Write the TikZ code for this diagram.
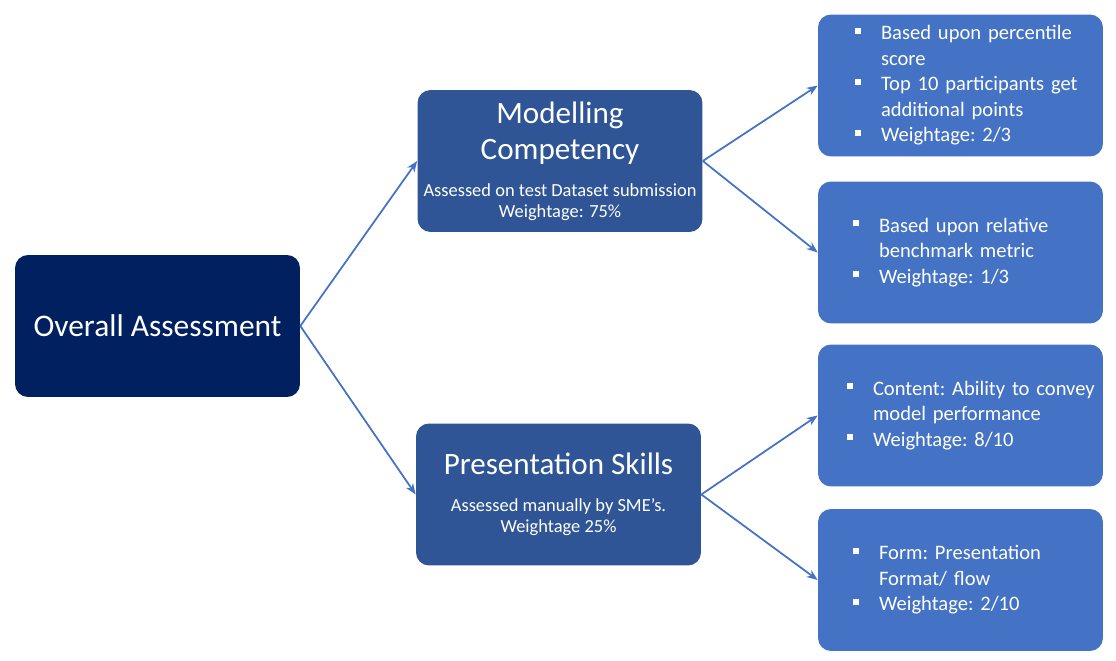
\documentclass[tikz,border=0pt]{standalone}
\usepackage{fontspec}
\setmainfont{Carlito}
\usepackage{xcolor}
\usetikzlibrary{arrows.meta}

\newcommand{\subfont}{\fontsize{10.5}{12}\selectfont}
\newcommand{\sqitem}[1]{\hangindent=0.52cm\hangafter=1\makebox[0.52cm][l]{\rule[0.12cm]{0.12cm}{0.12cm}}#1\par}

\tikzset{
    box/.style={rounded corners=0.26cm, text=white, minimum width=5.7cm, minimum height=2.84cm, align=center},
    rootbox/.style={box, fill=rootblue, font=\fontsize{17.9}{21}\selectfont},
    midbox/.style={box, fill=midblue, font=\fontsize{17.7}{20.5}\selectfont},
    leafbox/.style={box, fill=leafblue, align=left, text width=5.5cm, inner xsep=0.1cm,
        font=\fontsize{11.7}{14.5}\selectfont\frenchspacing,
        execute at begin node={\leftskip=#1\rightskip=-1cm plus 1fil\hyphenpenalty=10000}},
    link/.style={leafblue, line width=1pt, -{Stealth[length=0.22cm, width=0.17cm]}}
}

\begin{document}
\begin{tikzpicture}[x=0.02cm, y=-0.02cm]
    % Colours
    \definecolor{rootblue}{RGB}{0,32,96}     % Navy
    \definecolor{midblue}{RGB}{47,85,151}    % Dark blue
    \definecolor{leafblue}{RGB}{68,114,196}  % Blue

    \useasboundingbox (0,0) rectangle (1116,661);

    % Root
    \node[rootbox] (overall) at (157.5,326) {Overall Assessment};

    % Middle level
    \node[midbox] (model) at (560,161)
        {Modelling\\Competency\\[0.5pt]{\subfont Assessed on test Dataset submission}\\[-8.5pt]{\subfont Weightage: 75\%}};
    \node[midbox] (present) at (558.5,494.5)
        {Presentation Skills\\[0.5pt]{\subfont Assessed manually by SME's.}\\[-8.5pt]{\subfont Weightage 25\%}};

    % Leaves
    \node[leafbox=0.64cm] (pct) at (960.5,85.5)
        {\sqitem{Based upon percentile\newline score}\sqitem{Top 10 participants get\newline additional points}\sqitem{Weightage: 2/3}};
    \node[leafbox=0.6cm] (bench) at (960.5,252.5)
        {\sqitem{Based upon relative\newline benchmark metric}\sqitem{Weightage: 1/3}};
    \node[leafbox=0.48cm] (content) at (960.5,415.5)
        {\sqitem{Content: Ability to convey\newline model performance}\sqitem{Weightage: 8/10}};
    \node[leafbox=0.6cm] (form) at (960.5,580)
        {\sqitem{Form: Presentation\newline Format/ flow}\sqitem{Weightage: 2/10}};

    % Connectors
    \draw[link] (overall.east) -- (model.west);
    \draw[link] (overall.east) -- (present.west);
    \draw[link] (model.east) -- (pct.west);
    \draw[link] (model.east) -- (bench.west);
    \draw[link] (present.east) -- (content.west);
    \draw[link] (present.east) -- (form.west);
\end{tikzpicture}
\end{document}
